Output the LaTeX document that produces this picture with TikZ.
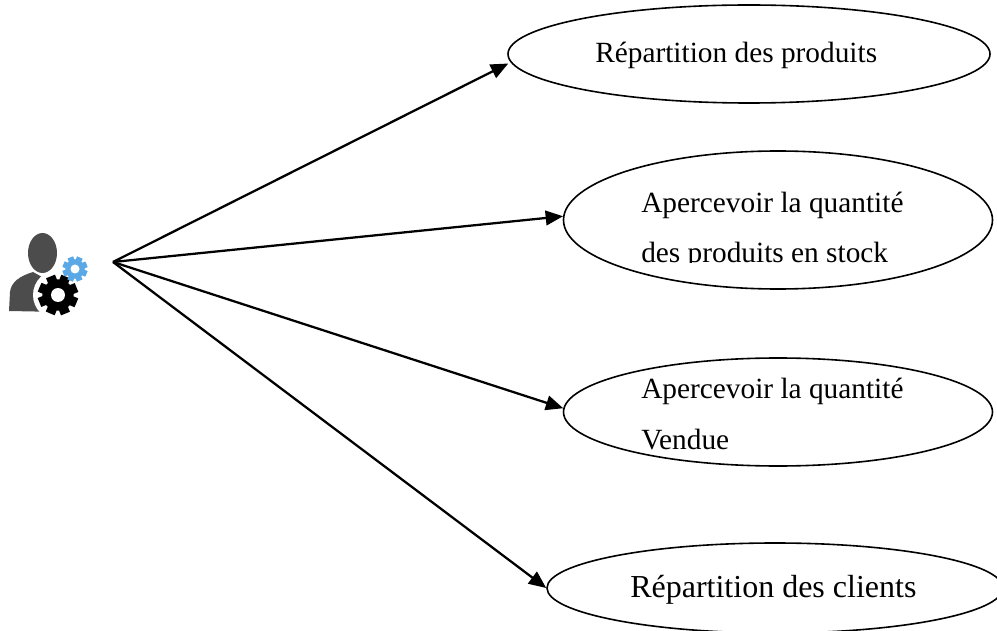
\documentclass[tikz,border=0pt]{standalone}
\usepackage{fontspec}
\setmainfont{Liberation Serif}
\usetikzlibrary{arrows.meta, shapes.geometric, positioning, calc}

\tikzset{
    usecase/.style={draw, ellipse, line width=1.2pt, inner sep=0pt},
    flow/.style={line width=1.7pt, -{Triangle[length=13pt,width=11pt]}},
    label/.style={inner sep=0pt, anchor=base west, font=\fontsize{22}{26}\selectfont}
}

% one gear: centre, radius, hole, colour
\newcommand{\drawgear}[4]{
    \fill[#4] (#1) circle (0.78*#2);
    \foreach \a in {0,45,...,315}
        \fill[#4, rotate around={\a+22:(#1)}] ($(#1)+(-0.24*#2,0)$) rectangle ($(#1)+(0.24*#2,#2)$);
    \fill[white] (#1) circle (#3);
}
\definecolor{gearblue}{HTML}{5AA9E6}

\begin{document}
\begin{tikzpicture}[x=0.75pt, y=-0.75pt]
    \useasboundingbox (0,0) rectangle (997,631);
    \clip (0,0) rectangle (997,631);

    % actor
    \fill[black!70] (42.5,253) ellipse (14.5 and 20);
    \fill[black!70] (9,311) -- (10,292) .. controls (11,282) and (20,276) .. (33,272)
        -- (42,277) -- (52,272) -- (70,285) -- (60,312) -- cycle;
    \fill[white] (58,295) circle (25);
    \drawgear{58,295}{20}{7}{black}
    \drawgear{75,269}{12.5}{4.5}{gearblue}
    \coordinate (actor) at (113,262);

    % use cases
    \node[usecase, minimum height=98*0.75pt, minimum width=482*0.75pt] (produits) at (749,54) {};
    \node[usecase, minimum height=138*0.75pt, minimum width=429*0.75pt] (stock) at (778,220) {};
    \node[usecase, minimum height=108*0.75pt, minimum width=429*0.75pt] (vendue) at (778,412) {};
    \node[usecase, minimum height=90*0.75pt, minimum width=456*0.75pt] (clients) at (775,588) {};

    \node[label] (t1) at (595,63) {Répartition des produits};
    \node[label] (t2) at (641,213) {Apercevoir la quantité};
    \begin{scope}
        \clip (600,230) rectangle (950,263);
        \node[label] (t3) at (641,263) {des produits en stock};
    \end{scope}
    \node[label] (t4) at (641,398) {Apercevoir la quantité};
    \node[label] (t5) at (641,449) {Vendue};
    \node[label, font=\fontsize{24}{28}\selectfont] (t6) at (630,597) {Répartition des clients};

    % arrows
    \draw[flow, shorten >=2pt] (actor) -- (produits.182);
    \draw[flow] (actor) -- (stock.179);
    \draw[flow] (actor) -- (vendue.179);
    \draw[flow] (actor) -- (clients.180);
\end{tikzpicture}
\end{document}
